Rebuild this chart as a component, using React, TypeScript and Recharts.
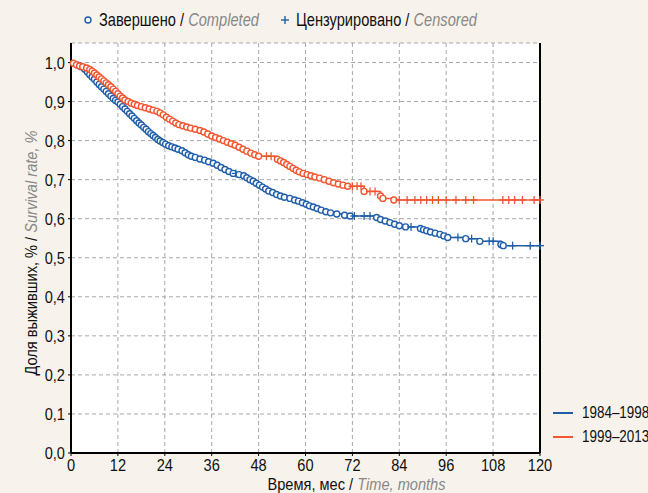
import React from "react";
import { LineChart, Line, XAxis, YAxis, CartesianGrid } from "recharts";

const FONT = "'Liberation Sans', Arial, sans-serif";
const SX = 0.86;
const BLUE = "#1f5ea8";
const RED = "#f2552f";
const BG = "#f7f3ec";

const xTicks = [0, 12, 24, 36, 48, 60, 72, 84, 96, 108, 120];
const yTicks = [0, 0.1, 0.2, 0.3, 0.4, 0.5, 0.6, 0.7, 0.8, 0.9, 1.0];
const rightTicks = [1, 2, 3, 4, 5, 6, 7, 8, 9];
const seriesNames = ["1984–1998", "1999–2013"];

// 1984–1998: events [months, survival]
const blueEvents: [number, number][] = [
  [1.6, 0.994], [2.6, 0.989], [3.5, 0.983],
  [4.2, 0.976], [4.8, 0.969], [5.4, 0.963], [6.0, 0.957], [6.6, 0.95], [7.2, 0.944], [7.8, 0.938],
  [8.4, 0.932], [9.0, 0.926], [9.6, 0.92], [10.2, 0.914], [10.8, 0.908], [11.4, 0.903], [12.0, 0.899],
  [12.6, 0.893], [13.2, 0.887], [13.8, 0.881], [14.4, 0.875], [15.0, 0.869], [15.6, 0.863], [16.2, 0.857],
  [16.8, 0.851], [17.4, 0.845], [18.0, 0.84], [18.6, 0.834], [19.2, 0.829], [19.8, 0.823], [20.4, 0.818],
  [21.0, 0.813], [21.6, 0.808], [22.2, 0.803], [22.8, 0.799], [23.5, 0.795], [24.2, 0.791], [25.0, 0.787],
  [25.8, 0.784], [26.6, 0.781], [27.4, 0.778], [28.4, 0.774], [29.2, 0.769], [30.0, 0.764], [30.8, 0.76],
  [31.8, 0.757], [33.0, 0.753], [34.2, 0.75], [35.2, 0.746], [36.4, 0.742], [37.4, 0.737], [38.4, 0.731],
  [39.4, 0.726], [40.4, 0.721], [41.5, 0.716], [43.0, 0.713], [44.2, 0.71], [45.0, 0.705], [45.8, 0.7],
  [46.6, 0.696], [47.4, 0.691], [48.2, 0.686], [49.0, 0.681], [49.8, 0.676], [50.6, 0.671], [51.6, 0.667],
  [52.6, 0.662], [53.6, 0.658], [54.6, 0.655], [56.0, 0.652], [57.2, 0.648], [58.2, 0.645], [59.2, 0.641],
  [60.2, 0.637], [61.0, 0.633], [62.0, 0.63], [63.0, 0.626], [64.0, 0.622], [65.2, 0.618], [66.4, 0.615],
  [68.0, 0.612], [70.0, 0.609], [71.4, 0.607], [78.2, 0.603], [79.2, 0.598], [80.4, 0.594], [81.6, 0.59],
  [82.8, 0.586], [84.0, 0.582], [85.6, 0.579], [89.4, 0.575], [90.2, 0.572], [91.0, 0.569], [92.0, 0.566],
  [93.2, 0.563], [94.4, 0.56], [95.4, 0.556], [96.4, 0.552], [101.0, 0.549], [104.6, 0.542], [110.0, 0.534],
  [110.6, 0.531],
];
const blueCensored: number[] = [42.2, 72.5, 75.0, 76.5, 87.0, 99.0, 102.5, 107.0, 108.0, 113.0, 117.5, 120];

// 1999–2013: events [months, survival]
const redEvents: [number, number][] = [
  [0.6, 0.998], [1.4, 0.994], [2.2, 0.991], [3.0, 0.989], [4.0, 0.986], [4.8, 0.982], [5.4, 0.978],
  [6.0, 0.973], [6.6, 0.968], [7.2, 0.963], [7.8, 0.958], [8.4, 0.953], [9.0, 0.948], [9.6, 0.943],
  [10.2, 0.938], [10.8, 0.932], [11.4, 0.926], [12.0, 0.92], [12.6, 0.914], [13.2, 0.909], [13.8, 0.904],
  [14.6, 0.9], [15.4, 0.896], [16.2, 0.893], [17.0, 0.89], [18.0, 0.887], [19.0, 0.884], [20.0, 0.881],
  [21.0, 0.878], [22.0, 0.875], [22.8, 0.871], [23.6, 0.866], [24.4, 0.86], [25.2, 0.855], [26.0, 0.85],
  [26.8, 0.845], [27.6, 0.841], [28.6, 0.838], [29.6, 0.835], [30.6, 0.832], [31.8, 0.829], [33.0, 0.826],
  [34.0, 0.822], [35.0, 0.817], [36.0, 0.812], [37.0, 0.808], [38.0, 0.804], [39.0, 0.8], [40.0, 0.796],
  [41.0, 0.792], [42.0, 0.788], [43.0, 0.783], [44.0, 0.778], [45.0, 0.773], [46.0, 0.768], [47.0, 0.764],
  [48.0, 0.76], [52.8, 0.752], [53.6, 0.748], [54.4, 0.744], [55.2, 0.739], [56.0, 0.734], [56.8, 0.729],
  [57.6, 0.724], [58.4, 0.72], [59.4, 0.716], [60.4, 0.713], [61.4, 0.71], [62.4, 0.707], [63.6, 0.704],
  [64.8, 0.7], [66.0, 0.696], [67.2, 0.692], [68.4, 0.689], [69.6, 0.686], [70.8, 0.683], [75.0, 0.67],
  [79.2, 0.658], [79.8, 0.652], [82.6, 0.648],
];
const redCensored: number[] = [
  50.0, 51.2, 72.0, 73.2, 74.2, 76.5, 77.8, 84.0, 86.0, 88.0, 89.5, 91.0, 92.5, 94.0, 96.0, 98.5,
  101.0, 103.0, 110.5, 112.0, 113.5, 115.5, 118.5, 120,
];

type Pt = { t: number; s: number; k: string };

function buildSeries(events: [number, number][], censored: number[]): Pt[] {
  const pts: Pt[] = [{ t: 0, s: 1, k: "start" }];
  events.forEach(([t, s]) => pts.push({ t, s, k: "e" }));
  censored.forEach((t) => {
    let s = 1;
    events.forEach(([et, es]) => {
      if (et <= t) s = es;
    });
    pts.push({ t, s, k: "c" });
  });
  pts.sort((a, b) => a.t - b.t);
  return pts;
}

const blueData = buildSeries(blueEvents, blueCensored);
const redData = buildSeries(redEvents, redCensored);

const makeDot = (color: string) => (props: any) => {
  const { cx, cy, payload, index } = props;
  if (cx == null || cy == null) return <g key={index} />;
  if (payload.k === "e") {
    return <circle key={index} cx={cx} cy={cy} r={3} fill="#fff" stroke={color} strokeWidth={1.4} />;
  }
  if (payload.k === "c") {
    return (
      <g key={index}>
        <line x1={cx - 4} y1={cy} x2={cx + 4} y2={cy} stroke={color} strokeWidth={1.3} />
        <line x1={cx} y1={cy - 4} x2={cx} y2={cy + 4} stroke={color} strokeWidth={1.3} />
      </g>
    );
  }
  return <g key={index} />;
};

const fmt = (v: number) => v.toFixed(1).replace(".", ",");

const XTick = (props: any) => {
  const { x, y, payload } = props;
  return (
    <text
      transform={`translate(${x},${y + 13}) scale(${SX},1)`}
      textAnchor="middle"
      fontFamily={FONT}
      fontSize={17}
      fill="#111"
    >
      {payload.value}
    </text>
  );
};

const YTick = (props: any) => {
  const { x, y, payload } = props;
  return (
    <text
      transform={`translate(${x - 1},${y + 6}) scale(${SX},1)`}
      textAnchor="end"
      fontFamily={FONT}
      fontSize={17}
      fill="#111"
    >
      {fmt(payload.value)}
    </text>
  );
};

const YLabel = () => {
  const cx = 37;
  const cy = 253;
  return (
    <text
      transform={`translate(${cx},${cy}) rotate(-90) scale(${SX},1)`}
      textAnchor="middle"
      fontFamily={FONT}
      fontSize={17}
      fill="#111"
    >
      <tspan>Доля выживших, % / </tspan>
      <tspan fill="#888" fontStyle="italic">Survival rate, %</tspan>
    </text>
  );
};

const XLabel = (props: any) => {
  const vb = props.viewBox || {};
  const cx = (vb.x ?? 71) + (vb.width ?? 469) / 2 + 51;
  const cy = 490;
  return (
    <text transform={`translate(${cx},${cy}) scale(${SX},1)`} textAnchor="middle" fontFamily={FONT} fontSize={17} fill="#111">
      <tspan>Время, мес / </tspan>
      <tspan fill="#888" fontStyle="italic">Time, months</tspan>
    </text>
  );
};

const legendText = (left: number, main: string, sub: string) => (
  <div
    style={{
      position: "absolute",
      left,
      top: 8,
      fontSize: 19,
      lineHeight: "24px",
      color: "#111",
      whiteSpace: "nowrap",
      transform: "scaleX(0.77)",
      transformOrigin: "0 0",
    }}
  >
    <span>{main} / </span>
    <span style={{ color: "#888", fontStyle: "italic" }}>{sub}</span>
  </div>
);

export default function App() {
  return (
    <div
      style={{
        position: "absolute",
        left: 0,
        top: 0,
        width: 648,
        height: 493,
        background: BG,
        overflow: "hidden",
        fontFamily: FONT,
      }}
    >
      <LineChart width={648} height={493} margin={{ top: 43, right: 108, bottom: 0, left: 0 }}>
        <CartesianGrid stroke="#a8a8a8" strokeDasharray="4 3" fill="#fff" fillOpacity={1} />
        <XAxis
          dataKey="t"
          type="number"
          domain={[0, 120]}
          ticks={xTicks}
          allowDuplicatedCategory={false}
          height={40}
          axisLine={{ stroke: "#000", strokeWidth: 2 }}
          tickLine={{ stroke: "#000" }}
          tickSize={3}
          tick={<XTick />}
          label={<XLabel />}
        />
        <XAxis
          xAxisId="top"
          orientation="top"
          type="number"
          domain={[0, 120]}
          height={0}
          tick={false}
          tickLine={false}
          axisLine={{ stroke: "#000", strokeWidth: 1.5 }}
        />
        <YAxis
          type="number"
          domain={[0, 1.05]}
          ticks={yTicks}
          width={71}
          axisLine={{ stroke: "#000", strokeWidth: 2 }}
          tickLine={{ stroke: "#000" }}
          tickSize={3}
          tick={<YTick />}
          label={<YLabel />}
        />
        <YAxis
          yAxisId="r"
          orientation="right"
          type="number"
          domain={[0.572, 9.35]}
          ticks={rightTicks}
          width={10}
          mirror
          tick={false}
          tickSize={4}
          tickLine={{ stroke: "#000" }}
          axisLine={{ stroke: "#000", strokeWidth: 2 }}
        />
        <Line
          data={blueData}
          dataKey="s"
          type="stepAfter"
          stroke={BLUE}
          strokeWidth={1.5}
          dot={makeDot(BLUE)}
          activeDot={false}
          isAnimationActive={false}
          name={seriesNames[0]}
        />
        <Line
          data={redData}
          dataKey="s"
          type="stepAfter"
          stroke={RED}
          strokeWidth={1.5}
          dot={makeDot(RED)}
          activeDot={false}
          isAnimationActive={false}
          name={seriesNames[1]}
        />
      </LineChart>
      <svg style={{ position: "absolute", left: 0, top: 0 }} width={648} height={40}>
        <circle cx={88} cy={20} r={3} fill="#fff" stroke={BLUE} strokeWidth={1.4} />
        <line x1={281} y1={20} x2={289} y2={20} stroke={BLUE} strokeWidth={1.4} />
        <line x1={285} y1={16} x2={285} y2={24} stroke={BLUE} strokeWidth={1.4} />
      </svg>
      {legendText(99, "Завершено", "Completed")}
      {legendText(296, "Цензурировано", "Censored")}
      <div style={{ position: "absolute", left: 553, top: 401, fontSize: 17, color: "#111" }}>
        {seriesNames.map((n, i) => (
          <div key={n} style={{ display: "flex", alignItems: "center", height: 24, whiteSpace: "nowrap" }}>
            <svg width={29} height={24}>
              <line x1={0} y1={12} x2={20} y2={12} stroke={i === 0 ? BLUE : RED} strokeWidth={2} />
            </svg>
            <span style={{ display: "inline-block", transform: "scaleX(0.79)", transformOrigin: "0 50%" }}>{n}</span>
          </div>
        ))}
      </div>
    </div>
  );
}
